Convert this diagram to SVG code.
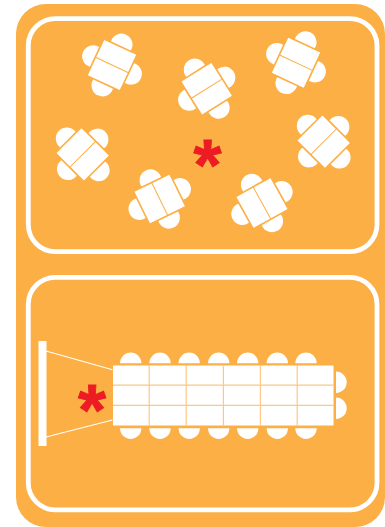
<svg xmlns="http://www.w3.org/2000/svg" width="385" height="527" viewBox="0 0 385 527">
<style>
.frame{fill:none;stroke:#fff;stroke-width:4.8}
.w{fill:#fff}
.ln{stroke:#fdc785;stroke-width:1.2;fill:none}
.beam{stroke:#fff;stroke-width:1.1;fill:none}
.star{font-family:"Liberation Sans",Arial,sans-serif;font-weight:bold;font-size:72px;fill:#ed1c24;stroke:#ed1c24;stroke-width:0.9;text-anchor:middle}
</style>
<defs>
<path id="seat" class="w" d="M-10.9 0A11 11 0 1 1 10.9 0Z"/>
<path id="half" class="w" d="M-10.7 0A10.7 10.7 0 0 1 10.7 0Z"/>
<g id="table">
<rect class="w" x="-17.6" y="-19.4" width="35.2" height="18.9"/>
<rect class="w" x="-17.6" y="0.5" width="35.2" height="18.9"/>
<use href="#seat" transform="translate(0,-21)"/>
<use href="#seat" transform="translate(0,21) rotate(180)"/>
<use href="#seat" transform="translate(-19.3,0) rotate(-90)"/>
<use href="#seat" transform="translate(19.3,0) rotate(90)"/>
</g>
</defs>
<rect id="panel" x="16" y="4" width="369" height="523" rx="30" ry="30" fill="#fcaf45"/>
<rect id="room-top" class="frame" x="28.3" y="18.6" width="348.7" height="233" rx="27"/>
<rect id="room-bottom" class="frame" x="28.3" y="277.4" width="348.7" height="232.4" rx="27"/>
<g id="table-1"><use href="#table" transform="translate(112,65) rotate(25)"/></g>
<g id="table-2"><use href="#table" transform="translate(206.7,88.7) rotate(-32)"/></g>
<g id="table-3"><use href="#table" transform="translate(296,62.7) rotate(25)"/></g>
<g id="table-4"><use href="#table" transform="translate(323.7,141.7) rotate(-45)"/></g>
<g id="table-5"><use href="#table" transform="translate(82.7,154.3) rotate(-45)"/></g>
<g id="table-6"><use href="#table" transform="translate(159.7,199) rotate(64)"/></g>
<g id="table-7"><use href="#table" transform="translate(262,203) rotate(61)"/></g>
<text id="star-top" class="star" x="207.5" y="190">*</text>
<g id="screen">
<rect class="w" x="38.5" y="341" width="8" height="105"/>
<path class="beam" d="M46 351L112.5 369.8M46 437L112.5 420"/>
</g>
<text id="star-bottom" class="star" x="92" y="435">*</text>
<g id="long-table">
<rect class="w" x="113" y="365.5" width="220.5" height="60"/>
<path class="ln" d="M113 385.2H333.5M113 405.4H333.5M149.2 365.5V425.5M186.2 365.5V425.5M223.4 365.5V425.5M260.4 365.5V425.5M297.2 365.5V425.5"/>
<use href="#half" transform="translate(130.7,363.3)"/>
<use href="#half" transform="translate(160,363.3)"/>
<use href="#half" transform="translate(189.2,363.3)"/>
<use href="#half" transform="translate(218.7,363.3)"/>
<use href="#half" transform="translate(247.7,363.3)"/>
<use href="#half" transform="translate(277.3,363.3)"/>
<use href="#half" transform="translate(306,363.3)"/>
<use href="#half" transform="translate(130.7,428.3) rotate(180)"/>
<use href="#half" transform="translate(160,428.3) rotate(180)"/>
<use href="#half" transform="translate(189.2,428.3) rotate(180)"/>
<use href="#half" transform="translate(218.7,428.3) rotate(180)"/>
<use href="#half" transform="translate(247.7,428.3) rotate(180)"/>
<use href="#half" transform="translate(277.3,428.3) rotate(180)"/>
<use href="#half" transform="translate(306,428.3) rotate(180)"/>
<use href="#half" transform="translate(336,382.3) rotate(90)"/>
<use href="#half" transform="translate(336,408.3) rotate(90)"/>
</g>
</svg>
